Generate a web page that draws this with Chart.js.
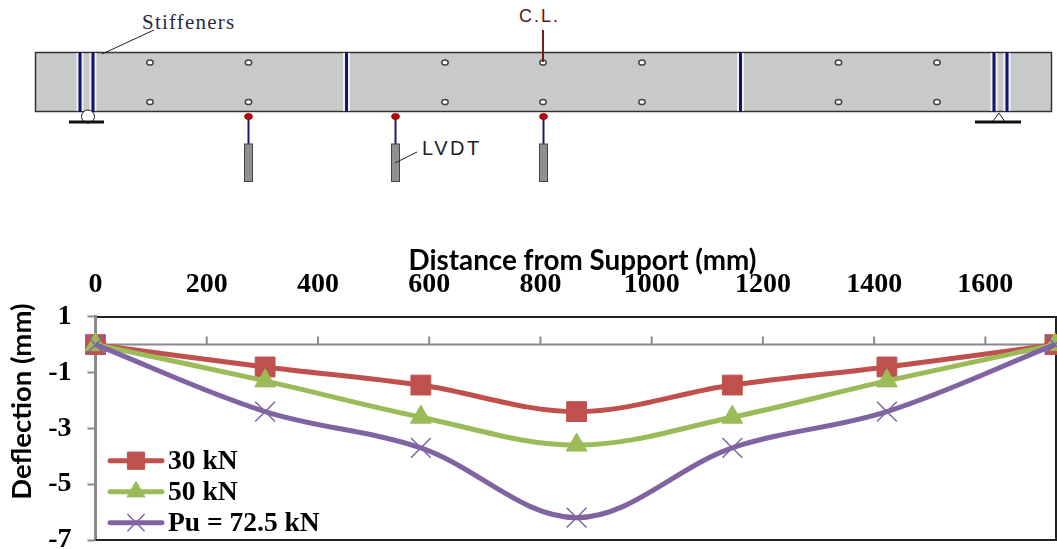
<!DOCTYPE html>
<html>
<head>
<meta charset="utf-8">
<title>Deflection</title>
<script src="https://cdn.jsdelivr.net/npm/chart.js@4"></script>
<style>
    html, body { margin: 0; padding: 0; background: #fff; overflow: hidden; }
    #viga { position: absolute; left: 0; top: 0; }
    #grafico { position: absolute; left: 0; top: 240px; }
</style>
</head>
<body>

<!-- beam sketch above the chart -->
<svg id="viga" width="1057" height="200" xmlns="http://www.w3.org/2000/svg">
    <rect x="35.5" y="52.5" width="1016" height="59" fill="#c8c9cb" stroke="#333" stroke-width="1.5"/>
    <g id="reforcos"></g>
    <g id="furos"></g>

    <circle cx="88" cy="116.5" r="6.5" fill="#fff" stroke="#222" stroke-width="1"/>
    <line x1="69" y1="122" x2="104" y2="122" stroke="#111" stroke-width="3"/>
    <path d="M993 121 L999 113 L1004.500 121" fill="#fff" stroke="#222" stroke-width="1"/>
    <line x1="975" y1="122" x2="1021" y2="122" stroke="#111" stroke-width="3"/>

    <g id="lvdts"></g>

    <line x1="102" y1="54" x2="154" y2="30" stroke="#222" stroke-width="1"/>
    <text x="142" y="29" font-family="Liberation Serif" font-size="21" letter-spacing="1.2" fill="#2a2a45">Stiffeners</text>

    <text x="519" y="22" font-family="Liberation Sans" font-size="18" letter-spacing="2" fill="#5e1414">C.L.</text>
    <line x1="543" y1="30" x2="543" y2="62" stroke="#7a1a1a" stroke-width="2"/>

    <line x1="417" y1="152" x2="395" y2="163" stroke="#222" stroke-width="1"/>
    <text x="422" y="155" font-family="Liberation Sans" font-size="20" letter-spacing="2.5" fill="#222">LVDT</text>
</svg>

<canvas id="grafico" width="1057" height="309"></canvas>

<script>
// dados
var distancia = [0, 305, 585, 865, 1145, 1423, 1725]
var carga30 = [0, -0.8, -1.45, -2.4, -1.45, -0.8, 0]
var carga50 = [0, -1.3, -2.6, -3.6, -2.6, -1.3, 0]
var cargaPu = [0, -2.4, -3.7, -6.2, -3.7, -2.4, 0]

var ticksX = [0, 200, 400, 600, 800, 1000, 1200, 1400, 1600]
var ticksY = [1, -1, -3, -5, -7]

// posicoes do desenho da viga
var reforcosX = [80, 93, 346.5, 740.5, 994, 1007]
var furosX = [150, 248.5, 445, 543, 642, 838.5, 937]
var furosY = [62.5, 102]
var lvdtsX = [248.5, 395.5, 543.5]

function criarSvg(pai, tag, attrs) {
    var el = document.createElementNS("http://www.w3.org/2000/svg", tag)
    for (var k in attrs) el.setAttribute(k, attrs[k])
    document.getElementById(pai).appendChild(el)
}

reforcosX.forEach(function (x) {
    criarSvg("reforcos", "line", { x1: x + 2.5, y1: 53, x2: x + 2.5, y2: 111, stroke: "#f2f2f4", "stroke-width": 2 })
    criarSvg("reforcos", "line", { x1: x - 2.5, y1: 53, x2: x - 2.5, y2: 111, stroke: "#f2f2f4", "stroke-width": 2 })
    criarSvg("reforcos", "line", { x1: x, y1: 52, x2: x, y2: 112, stroke: "#14146a", "stroke-width": 3 })
})

furosX.forEach(function (x) {
    furosY.forEach(function (y) {
        criarSvg("furos", "ellipse", { cx: x, cy: y, rx: 3.2, ry: 2.6, fill: "#fff", stroke: "#444", "stroke-width": 1.5 })
    })
})

lvdtsX.forEach(function (x) {
    criarSvg("lvdts", "line", { x1: x, y1: 117, x2: x, y2: 144, stroke: "#1a1a6e", "stroke-width": 2 })
    criarSvg("lvdts", "ellipse", { cx: x, cy: 116.5, rx: 4, ry: 3, fill: "#c00000", stroke: "#7a1010", "stroke-width": 0.8 })
    criarSvg("lvdts", "rect", { x: x - 4, y: 144, width: 8, height: 37.5, fill: "#8e9092", stroke: "#444", "stroke-width": 1 })
})

var fonteNumeros = "'Liberation Serif'"

// eixo em y = 0, borda da direita e de baixo, legenda dentro do grafico
var extras = {
    id: "extras",
    beforeDatasetsDraw: function (chart) {
        var ctx = chart.ctx
        var area = chart.chartArea
        var zero = chart.scales.y.getPixelForValue(0)

        ctx.save()
        ctx.strokeStyle = "#8a8a8a"
        ctx.lineWidth = 2
        ctx.beginPath()
        ctx.moveTo(area.left, zero)
        ctx.lineTo(area.right, zero)
        ticksX.forEach(function (v) {
            if (v == 0) return
            var px = chart.scales.x.getPixelForValue(v)
            ctx.moveTo(px, zero)
            ctx.lineTo(px, zero - 8)
        })
        ctx.stroke()

        ctx.strokeStyle = "#222"
        ctx.beginPath()
        ctx.moveTo(area.right, area.top)
        ctx.lineTo(area.right, area.bottom)
        ctx.lineTo(area.left, area.bottom)
        ctx.stroke()
        ctx.restore()
    },
    afterDraw: function (chart) {
        var ctx = chart.ctx
        chart.data.datasets.forEach(function (ds, i) {
            var y = 220.7 + i * 31
            ctx.save()
            ctx.strokeStyle = ds.borderColor
            ctx.lineWidth = 5
            ctx.lineCap = "round"
            ctx.beginPath()
            ctx.moveTo(110, y)
            ctx.lineTo(162, y)
            ctx.stroke()
            ctx.restore()

            ctx.save()
            ctx.fillStyle = ds.pointBackgroundColor
            ctx.strokeStyle = ds.pointBorderColor
            ctx.lineWidth = ds.pointBorderWidth
            Chart.helpers.drawPoint(ctx, {
                pointStyle: ds.pointStyle,
                radius: ds.pointRadius * 0.87,
                borderWidth: ds.pointBorderWidth
            }, 136, y)
            ctx.restore()

            ctx.save()
            ctx.fillStyle = "#000"
            ctx.font = "bold 27.5px " + fonteNumeros
            ctx.textBaseline = "middle"
            ctx.fillText(ds.label, 168, y + 1)
            ctx.restore()
        })
    }
}

var grafico = new Chart(document.getElementById("grafico"), {
    type: "line",
    data: {
        labels: distancia,
        datasets: [{
            label: "30 kN",
            data: carga30,
            order: 3,
            borderColor: "#c0504d",
            pointBackgroundColor: "#c0504d",
            pointBorderColor: "#c0504d",
            pointBorderWidth: 1,
            pointStyle: "rect",
            pointRadius: 14
        }, {
            label: "50 kN",
            data: carga50,
            order: 2,
            borderColor: "#9bbb59",
            pointBackgroundColor: "#9bbb59",
            pointBorderColor: "#9bbb59",
            pointBorderWidth: 1,
            pointStyle: "triangle",
            pointRadius: 12
        }, {
            label: "Pu = 72.5 kN",
            data: cargaPu,
            order: 1,
            borderColor: "#8064a2",
            pointBackgroundColor: "#8064a2",
            pointBorderColor: "#8064a2",
            pointBorderWidth: 1.5,
            pointStyle: "crossRot",
            pointRadius: 14
        }]
    },
    options: {
        responsive: false,
        animation: false,
        layout: { autoPadding: false, padding: { left: 0, right: 1, top: 0, bottom: 9 } },
        elements: { line: { borderWidth: 5, tension: 0.35, capBezierPoints: true } },
        datasets: { line: { clip: false } },
        plugins: { legend: { display: false }, tooltip: { enabled: false } },
        scales: {
            x: {
                type: "linear",
                position: "top",
                min: 0,
                max: 1727,
                afterBuildTicks: function (escala) {
                    escala.ticks = ticksX.map(function (v) { return { value: v } })
                },
                afterFit: function (escala) {
                    escala.height = 76.7
                    escala.paddingLeft = 0
                    escala.paddingRight = 0
                },
                border: { color: "#222", width: 2 },
                grid: { drawOnChartArea: false, drawTicks: false },
                ticks: {
                    color: "#000",
                    autoSkip: false,
                    maxRotation: 0,
                    padding: 15,
                    font: { family: fonteNumeros, weight: "bold", size: 28 },
                    callback: function (v) { return v }
                },
                title: {
                    display: true,
                    text: "  Distance from Support (mm)",
                    color: "#000",
                    padding: { top: 4, bottom: 0 },
                    font: { family: "Lato", weight: "bold", size: 27.8 }
                }
            },
            y: {
                min: -7,
                max: 1,
                afterBuildTicks: function (escala) {
                    escala.ticks = ticksY.map(function (v) { return { value: v } })
                },
                afterFit: function (escala) {
                    escala.width = 95.5
                    escala.paddingTop = 0
                    escala.paddingBottom = 0
                },
                border: { color: "#8a8a8a", width: 3 },
                grid: { drawOnChartArea: false, tickLength: 8, tickColor: "#8a8a8a", tickWidth: 2 },
                ticks: {
                    color: "#000",
                    padding: 16,
                    font: { family: fonteNumeros, weight: "bold", size: 28 },
                    callback: function (v) { return v }
                },
                title: {
                    display: true,
                    text: "        Deflection (mm)",
                    color: "#000",
                    padding: { top: 6, bottom: 0 },
                    font: { family: "Lato", weight: "bold", size: 27.5 }
                }
            }
        }
    },
    plugins: [extras]
})
</script>
</body>
</html>
